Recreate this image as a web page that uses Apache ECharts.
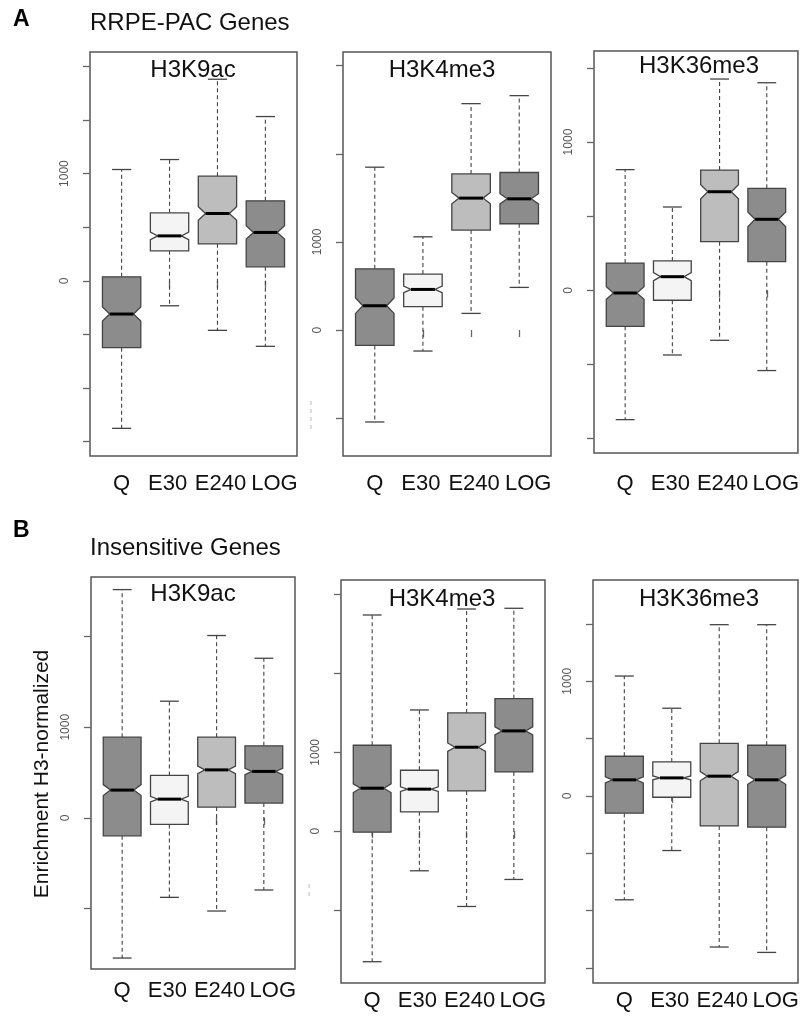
<!DOCTYPE html>
<html lang="en">
<head>
  <meta charset="UTF-8">
  <title>Histone marks boxplots</title>
  <style>
    body {
      margin: 0;
      padding: 0;
      background-color: #fff;
    }
    #chart {
      width: 802px;
      height: 1021px;
    }
  </style>
</head>
<body>
  <div id="chart"></div>

  <script src="https://cdn.jsdelivr.net/npm/echarts@6/dist/echarts.min.js"></script>
  <script>
// groups on the x axis
var groups = ['Q', 'E30', 'E240', 'LOG'];

// each row: [lower whisker, Q1, median, Q3, upper whisker, notch half-height]
var rrpeK9ac = [
  [-1376, -624, -310, 37, 1038, 66],
  [-233, 280, 419, 634, 1131, 35],
  [-462, 345, 628, 976, 1880, 63],
  [-611, 130, 451, 746, 1532, 62]
];
var rrpeK4me3 = [
  [-1043, -174, 276, 695, 1848, 87],
  [-238, 265, 461, 635, 1058, 37],
  [189, 1134, 1497, 1772, 2569, 64],
  [484, 1206, 1489, 1788, 2660, 58]
];
var rrpeK36me3 = [
  [-872, -243, -18, 184, 814, 43],
  [-436, -67, 92, 198, 562, 27],
  [-337, 328, 665, 811, 1425, 48],
  [-541, 193, 479, 688, 1400, 50]
];
var insK9ac = [
  [-1548, -199, 306, 890, 2519, 60],
  [-878, -73, 206, 468, 1287, 30],
  [-1029, 118, 529, 890, 2012, 42],
  [-797, 162, 512, 794, 1761, 35]
];
var insK4me3 = [
  [-1657, -13, 545, 1090, 2743, 55],
  [-503, 245, 533, 773, 1538, 29],
  [-956, 511, 1065, 1500, 2819, 54],
  [-613, 752, 1272, 1681, 2828, 51]
];
var insK36me3 = [
  [-907, -151, 140, 346, 1046, 27],
  [-477, -12, 157, 296, 765, 17],
  [-1319, -262, 172, 459, 1494, 40],
  [-1366, -273, 140, 442, 1494, 39]
];

// y tick marks drawn per panel, and the ones carrying a label
var ticksK9acA = [-1500, -1000, -500, 0, 500, 1000, 1500, 2000];
var ticksK4me3A = [-1000, 0, 1000, 2000, 3000];
var ticksK36me3A = [-1000, -500, 0, 500, 1000, 1500];
var ticksK9acB = [-1000, 0, 1000, 2000];
var ticksK4me3B = [-1000, 0, 1000, 2000, 3000];
var ticksK36me3B = [-1500, -1000, -500, 0, 500, 1000, 1500];
var labelledTicks = [0, 1000];

var fills = ['#8c8c8c', '#f4f4f4', '#bdbdbd', '#8c8c8c'];
var font = "'Liberation Sans', Arial, sans-serif";
var richKeys = ['q', 'e30', 'e240', 'log'];

var panels = [
  { name: 'H3K9ac', data: rrpeK9ac, ticks: ticksK9acA, min: -1634, max: 2134, box: [90, 52, 207, 404], title: [193, 70], lm: 17 },
  { name: 'H3K4me3', data: rrpeK4me3, ticks: ticksK4me3A, min: -1429, max: 3155, box: [343, 52, 208, 404], title: [442, 70], lm: 17 },
  { name: 'H3K36me3', data: rrpeK36me3, ticks: ticksK36me3A, min: -1097, max: 1614, box: [594, 51, 205, 402], title: [699, 66], lm: 20 },
  { name: 'H3K9ac', data: insK9ac, ticks: ticksK9acB, min: -1669, max: 2658, box: [91, 577, 204, 392], title: [193, 594], lm: 11 },
  { name: 'H3K4me3', data: insK4me3, ticks: ticksK4me3B, min: -1927, max: 3187, box: [341, 580, 204, 403], title: [442, 599], lm: 7 },
  { name: 'H3K36me3', data: insK36me3, ticks: ticksK36me3B, min: -1633, max: 1884, box: [593, 580, 205, 403], title: [699, 599], lm: 7 }
];

// notched box, drawn through the axes of its grid
function renderBox(params, api) {
  var x = api.value(0);
  var low = api.value(1), q1 = api.value(2), med = api.value(3);
  var q3 = api.value(4), high = api.value(5), n = api.value(6);
  var w = api.size([0.4, 0])[0];
  var nw = w * 0.62;
  var c = api.coord([x, med]);
  var cx = c[0], my = c[1];
  var yq1 = api.coord([x, q1])[1];
  var yq3 = api.coord([x, q3])[1];
  var ylo = api.coord([x, low])[1];
  var yhi = api.coord([x, high])[1];
  var yn1 = api.coord([x, med + n])[1];
  var yn2 = api.coord([x, med - n])[1];
  var idx = Math.round(x) - 1;

  var pts = [
    [cx - w, yq3], [cx + w, yq3], [cx + w, yn1], [cx + nw, my], [cx + w, yn2],
    [cx + w, yq1], [cx - w, yq1], [cx - w, yn2], [cx - nw, my], [cx - w, yn1]
  ];
  var dash = { stroke: '#444', lineWidth: 1.1, lineDash: [4, 3] };
  var cap = { stroke: '#444', lineWidth: 1.3 };
  return {
    type: 'group',
    children: [
      { type: 'line', shape: { x1: cx, y1: yq3, x2: cx, y2: yhi }, style: dash },
      { type: 'line', shape: { x1: cx, y1: yq1, x2: cx, y2: ylo }, style: dash },
      { type: 'line', shape: { x1: cx - w / 2, y1: yhi, x2: cx + w / 2, y2: yhi }, style: cap },
      { type: 'line', shape: { x1: cx - w / 2, y1: ylo, x2: cx + w / 2, y2: ylo }, style: cap },
      { type: 'polygon', shape: { points: pts }, style: { fill: fills[idx], stroke: '#444', lineWidth: 1.3 } },
      { type: 'line', shape: { x1: cx - nw, y1: my, x2: cx + nw, y2: my }, style: { stroke: '#000', lineWidth: 3 } }
    ]
  };
}

var grids = [], xAxes = [], yAxes = [], series = [];
var graphics = [
  { type: 'text', x: 13, y: 20, style: { text: 'A', font: 'bold 23px ' + font, fill: '#000', textVerticalAlign: 'middle' } },
  { type: 'text', x: 90, y: 23, style: { text: 'RRPE-PAC Genes', font: '24px ' + font, fill: '#111', textVerticalAlign: 'middle' } },
  { type: 'text', x: 13, y: 531, style: { text: 'B', font: 'bold 23px ' + font, fill: '#000', textVerticalAlign: 'middle' } },
  { type: 'text', x: 90, y: 548, style: { text: 'Insensitive Genes', font: '24px ' + font, fill: '#111', textVerticalAlign: 'middle' } },
  { type: 'text', x: 42, y: 774, rotation: Math.PI / 2, style: { text: 'Enrichment H3-normalized', font: '21px ' + font, fill: '#111', textAlign: 'center', textVerticalAlign: 'middle' } },
  // faint leftovers of erased tick labels
  { type: 'line', shape: { x1: 311, y1: 401, x2: 311, y2: 430 }, style: { stroke: '#bbb', lineWidth: 1, lineDash: [4, 4] } },
  { type: 'line', shape: { x1: 309, y1: 884, x2: 309, y2: 898 }, style: { stroke: '#bbb', lineWidth: 1, lineDash: [4, 4] } }
];

panels.forEach(function (p, i) {
  var b = p.box;
  grids.push({ left: b[0], top: b[1], width: b[2], height: b[3], show: true, borderColor: '#555', borderWidth: 1.5, backgroundColor: 'transparent' });
  xAxes.push({
    gridIndex: i, type: 'value', min: 0.34, max: 4.66,
    axisLine: { show: false },
    axisTick: { show: true, customValues: [1, 2, 3, 4], length: 7, lineStyle: { color: '#666', width: 1.3 } },
    axisLabel: {
      customValues: [1, 2, 3, 4],
      formatter: function (v) {
        var k = Math.round(v) - 1;
        return '{' + richKeys[k] + '|' + groups[k] + '}';
      },
      fontSize: 22, color: '#111', fontFamily: font, margin: p.lm,
      rich: {
        q: { fontSize: 22, fontFamily: font, color: '#111' },
        e30: { fontSize: 22, fontFamily: font, color: '#111', padding: [0, 4, 0, 0] },
        e240: { fontSize: 22, fontFamily: font, color: '#111', padding: [0, 0, 0, 6] },
        log: { fontSize: 22, fontFamily: font, color: '#111', padding: [0, 0, 0, 18] }
      }
    },
    splitLine: { show: false }
  });
  yAxes.push({
    gridIndex: i, type: 'value', min: p.min, max: p.max,
    axisLine: { show: false },
    axisTick: { show: true, customValues: p.ticks, length: 7, lineStyle: { color: '#666', width: 1.3 } },
    axisLabel: {
      customValues: labelledTicks, rotate: 90, fontSize: 12, color: '#555', fontFamily: font, margin: 19,
      formatter: function (v) { return String(v); }
    },
    splitLine: { show: false }
  });
  series.push({
    type: 'custom', xAxisIndex: i, yAxisIndex: i,
    renderItem: renderBox,
    encode: { x: 0, y: [1, 2, 3, 4, 5] },
    data: p.data.map(function (r, k) { return [k + 1].concat(r); })
  });
  graphics.push({
    type: 'text', x: p.title[0], y: p.title[1],
    style: { text: p.name, font: '24px ' + font, fill: '#111', textAlign: 'center', textVerticalAlign: 'middle' }
  });
});

var chart = echarts.init(document.getElementById('chart'));
chart.setOption({
  backgroundColor: '#fff',
  animation: false,
  grid: grids,
  xAxis: xAxes,
  yAxis: yAxes,
  series: series,
  graphic: graphics
});
  </script>
</body>
</html>
